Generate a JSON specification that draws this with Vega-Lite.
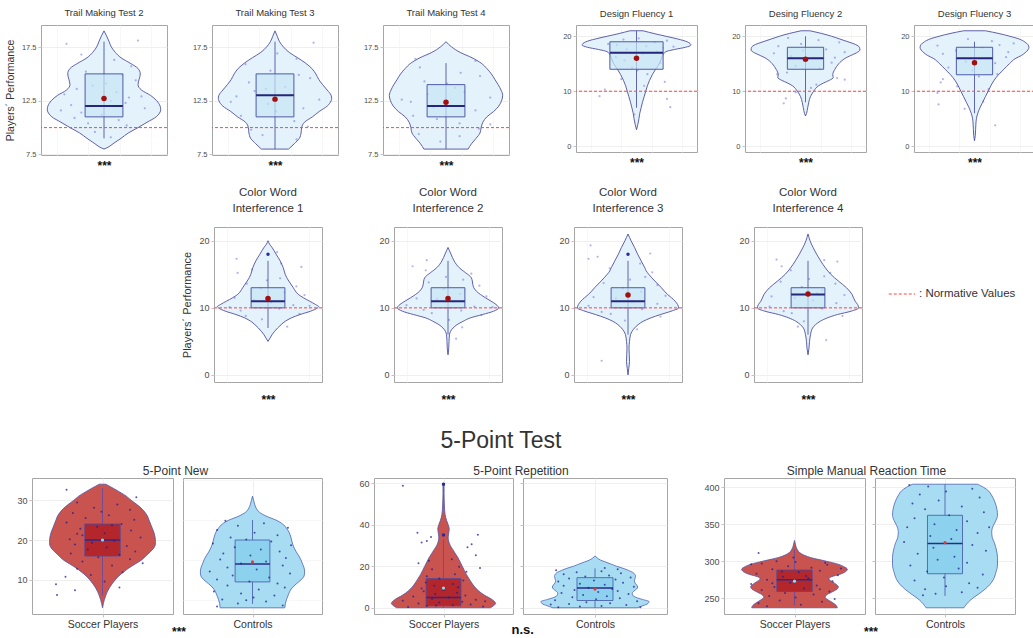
{
"$schema":"https://vega.github.io/schema/vega-lite/v6.json",
"background":"white",
"padding":{"left":0,"top":7,"right":0,"bottom":0},
"datasets":{
"vio":[
{"p":"T2","v":19,"w":0},{"p":"T2","v":18.6,"w":0.4},{"p":"T2","v":18,"w":0.9},{"p":"T2","v":17.5,"w":1.3},{"p":"T2","v":17,"w":2},{"p":"T2","v":16.5,"w":3},{"p":"T2","v":16,"w":4.6},{"p":"T2","v":15.5,"w":6},{"p":"T2","v":15,"w":6.4},{"p":"T2","v":14.5,"w":6.2},{"p":"T2","v":14,"w":6},{"p":"T2","v":13.5,"w":6.6},{"p":"T2","v":13,"w":8.2},{"p":"T2","v":12.5,"w":9.3},{"p":"T2","v":12,"w":9.9},{"p":"T2","v":11.7,"w":10},{"p":"T2","v":11,"w":9.2},{"p":"T2","v":10.5,"w":7.6},{"p":"T2","v":10,"w":6},{"p":"T2","v":9.5,"w":4.3},{"p":"T2","v":9,"w":3},{"p":"T2","v":8.5,"w":1.6},{"p":"T2","v":8.2,"w":0.8},{"p":"T2","v":8,"w":0},
{"p":"T3","v":19,"w":0},{"p":"T3","v":18.5,"w":0.4},{"p":"T3","v":18,"w":0.8},{"p":"T3","v":17.5,"w":1.5},{"p":"T3","v":17,"w":2.5},{"p":"T3","v":16.5,"w":4},{"p":"T3","v":16,"w":5.4},{"p":"T3","v":15.5,"w":6.5},{"p":"T3","v":15,"w":7.2},{"p":"T3","v":14.5,"w":7.7},{"p":"T3","v":14,"w":8.4},{"p":"T3","v":13.5,"w":9.2},{"p":"T3","v":13,"w":9.9},{"p":"T3","v":12.7,"w":10},{"p":"T3","v":12.5,"w":9.9},{"p":"T3","v":12,"w":9.2},{"p":"T3","v":11.5,"w":7.8},{"p":"T3","v":11,"w":6.6},{"p":"T3","v":10.5,"w":5.2},{"p":"T3","v":10,"w":4.7},{"p":"T3","v":9.5,"w":4.6},{"p":"T3","v":9,"w":4.3},{"p":"T3","v":8.5,"w":3.4},{"p":"T3","v":8,"w":2.4},
{"p":"T4","v":18,"w":0},{"p":"T4","v":17.5,"w":1},{"p":"T4","v":17,"w":2.5},{"p":"T4","v":16.5,"w":4.6},{"p":"T4","v":16,"w":6.2},{"p":"T4","v":15.5,"w":7.2},{"p":"T4","v":15,"w":8},{"p":"T4","v":14.5,"w":8.6},{"p":"T4","v":14,"w":9.2},{"p":"T4","v":13.5,"w":9.7},{"p":"T4","v":13,"w":10},{"p":"T4","v":12.5,"w":9.8},{"p":"T4","v":12,"w":9.3},{"p":"T4","v":11.5,"w":8.4},{"p":"T4","v":11,"w":7.2},{"p":"T4","v":10.5,"w":6.5},{"p":"T4","v":10,"w":6.2},{"p":"T4","v":9.5,"w":6},{"p":"T4","v":9,"w":5.3},{"p":"T4","v":8.5,"w":4.5},{"p":"T4","v":8,"w":3.9},
{"p":"D1","v":21,"w":1.2},{"p":"D1","v":20.5,"w":3.2},{"p":"D1","v":20,"w":5.4},{"p":"D1","v":19.5,"w":7.6},{"p":"D1","v":19,"w":9.3},{"p":"D1","v":18.4,"w":10},{"p":"D1","v":18,"w":9},{"p":"D1","v":17.6,"w":7},{"p":"D1","v":17.2,"w":5.4},{"p":"D1","v":16.5,"w":4.8},{"p":"D1","v":16,"w":4.6},{"p":"D1","v":15,"w":4.2},{"p":"D1","v":14,"w":3.5},{"p":"D1","v":13,"w":2.9},{"p":"D1","v":12,"w":2.4},{"p":"D1","v":11,"w":2},{"p":"D1","v":10,"w":1.7},{"p":"D1","v":9,"w":1.4},{"p":"D1","v":8,"w":1.1},{"p":"D1","v":7,"w":0.85},{"p":"D1","v":6,"w":0.6},{"p":"D1","v":5,"w":0.45},{"p":"D1","v":4,"w":0.25},{"p":"D1","v":3,"w":0},
{"p":"D2","v":21,"w":0.8},{"p":"D2","v":20.5,"w":3},{"p":"D2","v":20,"w":4.8},{"p":"D2","v":19.5,"w":6.3},{"p":"D2","v":19,"w":7.8},{"p":"D2","v":18.5,"w":9.2},{"p":"D2","v":18,"w":9.9},{"p":"D2","v":17.5,"w":10},{"p":"D2","v":17,"w":9.4},{"p":"D2","v":16.5,"w":8.3},{"p":"D2","v":16,"w":7.3},{"p":"D2","v":15.5,"w":6.6},{"p":"D2","v":15,"w":6.1},{"p":"D2","v":14,"w":5.4},{"p":"D2","v":13,"w":5},{"p":"D2","v":12.5,"w":5.1},{"p":"D2","v":12,"w":4.4},{"p":"D2","v":11.5,"w":3.3},{"p":"D2","v":11,"w":2.4},{"p":"D2","v":10,"w":1.5},{"p":"D2","v":9,"w":0.9},{"p":"D2","v":8,"w":0.6},{"p":"D2","v":7,"w":0.4},{"p":"D2","v":6,"w":0.2},{"p":"D2","v":5.5,"w":0},
{"p":"D3","v":21,"w":2},{"p":"D3","v":20.5,"w":4.5},{"p":"D3","v":20,"w":6.5},{"p":"D3","v":19.5,"w":8.2},{"p":"D3","v":19,"w":9.2},{"p":"D3","v":18.5,"w":9.8},{"p":"D3","v":18,"w":10},{"p":"D3","v":17.5,"w":9.8},{"p":"D3","v":17,"w":9.3},{"p":"D3","v":16.5,"w":8.6},{"p":"D3","v":16,"w":7.6},{"p":"D3","v":15,"w":6.4},{"p":"D3","v":14,"w":5.4},{"p":"D3","v":13,"w":4.4},{"p":"D3","v":12,"w":3.6},{"p":"D3","v":11,"w":3},{"p":"D3","v":10,"w":2.5},{"p":"D3","v":9,"w":2},{"p":"D3","v":8,"w":1.5},{"p":"D3","v":7,"w":1},{"p":"D3","v":6,"w":0.6},{"p":"D3","v":5,"w":0.35},{"p":"D3","v":4,"w":0.25},{"p":"D3","v":3,"w":0.2},{"p":"D3","v":2,"w":0.15},{"p":"D3","v":1,"w":0},
{"p":"C1","v":20,"w":0},{"p":"C1","v":19.5,"w":0.3},{"p":"C1","v":19,"w":0.8},{"p":"C1","v":18,"w":1.6},{"p":"C1","v":17,"w":2.4},{"p":"C1","v":16,"w":3},{"p":"C1","v":15,"w":3.4},{"p":"C1","v":14.5,"w":3.7},{"p":"C1","v":14,"w":4.1},{"p":"C1","v":13,"w":5},{"p":"C1","v":12,"w":6},{"p":"C1","v":11.5,"w":7},{"p":"C1","v":11,"w":8.2},{"p":"C1","v":10.5,"w":9.4},{"p":"C1","v":10.2,"w":10},{"p":"C1","v":10,"w":9.8},{"p":"C1","v":9.5,"w":8.4},{"p":"C1","v":9,"w":6.3},{"p":"C1","v":8.5,"w":4.6},{"p":"C1","v":8,"w":3.4},{"p":"C1","v":7.5,"w":2.6},{"p":"C1","v":7,"w":1.9},{"p":"C1","v":6.5,"w":1.3},{"p":"C1","v":6,"w":0.8},{"p":"C1","v":5.5,"w":0.4},{"p":"C1","v":5,"w":0},
{"p":"C2","v":19,"w":0},{"p":"C2","v":18.5,"w":0.3},{"p":"C2","v":18,"w":0.6},{"p":"C2","v":17,"w":1.2},{"p":"C2","v":16,"w":2.2},{"p":"C2","v":15.5,"w":3},{"p":"C2","v":15,"w":3.9},{"p":"C2","v":14.5,"w":4.6},{"p":"C2","v":14,"w":4.8},{"p":"C2","v":13.5,"w":4.9},{"p":"C2","v":13,"w":5.1},{"p":"C2","v":12.5,"w":5.6},{"p":"C2","v":12,"w":6.4},{"p":"C2","v":11.5,"w":7.4},{"p":"C2","v":11,"w":8.5},{"p":"C2","v":10.5,"w":9.5},{"p":"C2","v":10,"w":10},{"p":"C2","v":9.5,"w":9},{"p":"C2","v":9,"w":6.8},{"p":"C2","v":8.5,"w":4.4},{"p":"C2","v":8,"w":3},{"p":"C2","v":7.5,"w":1.8},{"p":"C2","v":7,"w":1},{"p":"C2","v":6.5,"w":0.5},{"p":"C2","v":6,"w":0.3},{"p":"C2","v":5,"w":0.2},{"p":"C2","v":4,"w":0.15},{"p":"C2","v":3,"w":0},
{"p":"C3","v":21,"w":0},{"p":"C3","v":20.5,"w":0.3},{"p":"C3","v":20,"w":0.6},{"p":"C3","v":19,"w":1.3},{"p":"C3","v":18,"w":1.9},{"p":"C3","v":17,"w":2.6},{"p":"C3","v":16,"w":3.3},{"p":"C3","v":15.5,"w":3.6},{"p":"C3","v":15,"w":4.1},{"p":"C3","v":14,"w":5.3},{"p":"C3","v":13,"w":6.6},{"p":"C3","v":12,"w":7.8},{"p":"C3","v":11.5,"w":8.6},{"p":"C3","v":11,"w":9.3},{"p":"C3","v":10.5,"w":9.8},{"p":"C3","v":10,"w":10},{"p":"C3","v":9.5,"w":8.5},{"p":"C3","v":9,"w":6.4},{"p":"C3","v":8.5,"w":4.5},{"p":"C3","v":8,"w":3},{"p":"C3","v":7.5,"w":2},{"p":"C3","v":7,"w":1.3},{"p":"C3","v":6.5,"w":0.8},{"p":"C3","v":6,"w":0.5},{"p":"C3","v":5,"w":0.3},{"p":"C3","v":4,"w":0.2},{"p":"C3","v":3,"w":0.25},{"p":"C3","v":2,"w":0.3},{"p":"C3","v":1,"w":0.15},{"p":"C3","v":0,"w":0},
{"p":"C4","v":21,"w":0},{"p":"C4","v":20.5,"w":0.2},{"p":"C4","v":20,"w":0.4},{"p":"C4","v":19,"w":1},{"p":"C4","v":18,"w":1.7},{"p":"C4","v":17,"w":2.5},{"p":"C4","v":16,"w":3.4},{"p":"C4","v":15,"w":4.5},{"p":"C4","v":14,"w":6},{"p":"C4","v":13,"w":7.6},{"p":"C4","v":12,"w":8.7},{"p":"C4","v":11,"w":9.3},{"p":"C4","v":10.5,"w":9.8},{"p":"C4","v":10,"w":10},{"p":"C4","v":9.5,"w":8.5},{"p":"C4","v":9,"w":5.8},{"p":"C4","v":8.5,"w":3.8},{"p":"C4","v":8,"w":2.4},{"p":"C4","v":7.5,"w":1.5},{"p":"C4","v":7,"w":0.9},{"p":"C4","v":6,"w":0.5},{"p":"C4","v":5,"w":0.3},{"p":"C4","v":4,"w":0.2},{"p":"C4","v":3,"w":0},
{"p":"NS","v":34,"w":0.6},{"p":"NS","v":33,"w":2},{"p":"NS","v":32,"w":3.3},{"p":"NS","v":31,"w":4.5},{"p":"NS","v":30,"w":5.4},{"p":"NS","v":29,"w":6.4},{"p":"NS","v":28,"w":7.3},{"p":"NS","v":27,"w":8},{"p":"NS","v":26,"w":8.5},{"p":"NS","v":25,"w":8.8},{"p":"NS","v":24,"w":9.1},{"p":"NS","v":23,"w":9.4},{"p":"NS","v":22,"w":9.7},{"p":"NS","v":21,"w":9.9},{"p":"NS","v":20,"w":10},{"p":"NS","v":19,"w":10},{"p":"NS","v":18,"w":9.7},{"p":"NS","v":17,"w":9},{"p":"NS","v":16,"w":8.2},{"p":"NS","v":15,"w":7.4},{"p":"NS","v":14,"w":6.2},{"p":"NS","v":13,"w":5},{"p":"NS","v":12,"w":4},{"p":"NS","v":11,"w":3.1},{"p":"NS","v":10,"w":2.4},{"p":"NS","v":9,"w":1.8},{"p":"NS","v":8,"w":1.3},{"p":"NS","v":7,"w":0.9},{"p":"NS","v":6,"w":0.6},{"p":"NS","v":5,"w":0.35},{"p":"NS","v":4,"w":0.15},{"p":"NS","v":3,"w":0},
{"p":"NC","v":31,"w":0},{"p":"NC","v":30,"w":0.2},{"p":"NC","v":29,"w":0.4},{"p":"NC","v":28,"w":0.7},{"p":"NC","v":27,"w":1.3},{"p":"NC","v":26,"w":2.6},{"p":"NC","v":25,"w":4.5},{"p":"NC","v":24,"w":5.8},{"p":"NC","v":23,"w":6.5},{"p":"NC","v":22,"w":7},{"p":"NC","v":21,"w":7.3},{"p":"NC","v":20,"w":7.5},{"p":"NC","v":19,"w":7.7},{"p":"NC","v":18,"w":8},{"p":"NC","v":17,"w":8.4},{"p":"NC","v":16,"w":8.9},{"p":"NC","v":15,"w":9.3},{"p":"NC","v":14,"w":9.6},{"p":"NC","v":13,"w":9.9},{"p":"NC","v":12,"w":10},{"p":"NC","v":11,"w":9.9},{"p":"NC","v":10,"w":9.3},{"p":"NC","v":9,"w":8.4},{"p":"NC","v":8,"w":7.6},{"p":"NC","v":7,"w":7.1},{"p":"NC","v":6,"w":6.8},{"p":"NC","v":5,"w":6.5},{"p":"NC","v":4,"w":6.3},{"p":"NC","v":3,"w":6.2},
{"p":"RS","v":60,"w":0.1},{"p":"RS","v":55,"w":0.1},{"p":"RS","v":50,"w":0.15},{"p":"RS","v":45,"w":0.3},{"p":"RS","v":42,"w":0.6},{"p":"RS","v":40,"w":0.9},{"p":"RS","v":38,"w":1.1},{"p":"RS","v":36,"w":1},{"p":"RS","v":34,"w":0.9},{"p":"RS","v":32,"w":1},{"p":"RS","v":30,"w":1.3},{"p":"RS","v":28,"w":1.8},{"p":"RS","v":26,"w":2.3},{"p":"RS","v":24,"w":2.8},{"p":"RS","v":22,"w":3.2},{"p":"RS","v":20,"w":3.6},{"p":"RS","v":18,"w":4},{"p":"RS","v":16,"w":4.4},{"p":"RS","v":14,"w":4.9},{"p":"RS","v":12,"w":5.4},{"p":"RS","v":10,"w":6},{"p":"RS","v":8,"w":6.8},{"p":"RS","v":6,"w":7.9},{"p":"RS","v":4,"w":9.3},{"p":"RS","v":2,"w":10},{"p":"RS","v":1,"w":9.6},{"p":"RS","v":0,"w":9},
{"p":"RC","v":25,"w":0},{"p":"RC","v":24,"w":0.4},{"p":"RC","v":23,"w":1},{"p":"RC","v":22,"w":2},{"p":"RC","v":21,"w":3},{"p":"RC","v":20,"w":4},{"p":"RC","v":19,"w":5.2},{"p":"RC","v":18,"w":6.2},{"p":"RC","v":17,"w":7},{"p":"RC","v":16,"w":7.4},{"p":"RC","v":15,"w":7.5},{"p":"RC","v":14,"w":7.4},{"p":"RC","v":13,"w":7.3},{"p":"RC","v":12,"w":7.4},{"p":"RC","v":11,"w":7.7},{"p":"RC","v":10,"w":7.9},{"p":"RC","v":9,"w":7.7},{"p":"RC","v":8,"w":7.2},{"p":"RC","v":7,"w":6.9},{"p":"RC","v":6,"w":7},{"p":"RC","v":5,"w":7.6},{"p":"RC","v":4,"w":8.8},{"p":"RC","v":3,"w":10},{"p":"RC","v":2,"w":9.8},{"p":"RC","v":1,"w":8.9},{"p":"RC","v":0,"w":7.8},
{"p":"MS","v":328,"w":0},{"p":"MS","v":322,"w":0.2},{"p":"MS","v":316,"w":0.5},{"p":"MS","v":310,"w":1.3},{"p":"MS","v":305,"w":3},{"p":"MS","v":300,"w":6},{"p":"MS","v":296,"w":8.2},{"p":"MS","v":292,"w":9.5},{"p":"MS","v":289,"w":10},{"p":"MS","v":286,"w":9.7},{"p":"MS","v":282,"w":8.5},{"p":"MS","v":279,"w":7},{"p":"MS","v":276,"w":6.5},{"p":"MS","v":272,"w":7.2},{"p":"MS","v":268,"w":8},{"p":"MS","v":265,"w":8.3},{"p":"MS","v":262,"w":8},{"p":"MS","v":258,"w":7},{"p":"MS","v":254,"w":6},{"p":"MS","v":251,"w":5.8},{"p":"MS","v":248,"w":6.3},{"p":"MS","v":244,"w":7.2},{"p":"MS","v":240,"w":7.9},{"p":"MS","v":237,"w":8.1},
{"p":"MC","v":404,"w":6.2},{"p":"MC","v":400,"w":7.3},{"p":"MC","v":395,"w":8.3},{"p":"MC","v":390,"w":8.8},{"p":"MC","v":385,"w":9.2},{"p":"MC","v":380,"w":9.5},{"p":"MC","v":370,"w":9.9},{"p":"MC","v":362,"w":10},{"p":"MC","v":355,"w":9.7},{"p":"MC","v":348,"w":9.2},{"p":"MC","v":340,"w":8.9},{"p":"MC","v":332,"w":9},{"p":"MC","v":325,"w":9.4},{"p":"MC","v":315,"w":9.8},{"p":"MC","v":305,"w":10},{"p":"MC","v":295,"w":10},{"p":"MC","v":285,"w":9.7},{"p":"MC","v":275,"w":9.2},{"p":"MC","v":268,"w":8.5},{"p":"MC","v":262,"w":7.6},{"p":"MC","v":256,"w":6.5},{"p":"MC","v":250,"w":5.3},{"p":"MC","v":245,"w":4.5},{"p":"MC","v":240,"w":3.9},{"p":"MC","v":237,"w":3.6}
],
"box":[
{"p":"T2","lo":9,"q1":11,"md":12,"q3":15,"hi":18,"mn":12.7},
{"p":"T3","lo":8,"q1":11,"md":13,"q3":15,"hi":18,"mn":12.65},
{"p":"T4","lo":8,"q1":11,"md":12,"q3":14,"hi":16,"mn":12.35},
{"p":"D1","lo":7,"q1":14,"md":17,"q3":19,"hi":21,"mn":16},
{"p":"D2","lo":8,"q1":14,"md":16,"q3":18,"hi":20,"mn":15.8},
{"p":"D3","lo":6,"q1":13,"md":16,"q3":18,"hi":19,"mn":15.2},
{"p":"C1","lo":7,"q1":10,"md":11,"q3":13,"hi":17,"mn":11.4},
{"p":"C2","lo":6,"q1":10,"md":11,"q3":13,"hi":17,"mn":11.4},
{"p":"C3","lo":6,"q1":10,"md":11,"q3":13,"hi":17,"mn":11.9},
{"p":"C4","lo":6,"q1":10,"md":12,"q3":13,"hi":17,"mn":12.05},
{"p":"NS","lo":6,"q1":16,"md":20,"q3":24,"hi":33,"mn":20},
{"p":"NC","lo":4,"q1":9.5,"md":14,"q3":20,"hi":25,"mn":14.5},
{"p":"RS","lo":0,"q1":1,"md":5,"q3":14,"hi":33,"mn":9.5},
{"p":"RC","lo":0,"q1":3.5,"md":9.5,"q3":14.5,"hi":19,"mn":9},
{"p":"MS","lo":240,"q1":259,"md":275,"q3":288,"hi":316,"mn":273},
{"p":"MC","lo":253,"q1":283,"md":324,"q3":362,"hi":404,"mn":325}
],
"out":[
{"p":"C1","v":18},{"p":"C3","v":18},{"p":"RS","v":35},{"p":"RS","v":59.5}
],
"pts":[
{"p":"T2","v":12.1,"j":2.1},{"p":"T2","v":11.4,"j":3},{"p":"T2","v":12.8,"j":7.2},{"p":"T2","v":13.6,"j":2.6},{"p":"T2","v":10.7,"j":6.3},{"p":"T2","v":14.4,"j":7.8},{"p":"T2","v":15.2,"j":3.4},{"p":"T2","v":11.8,"j":8.6},{"p":"T2","v":9.6,"j":4.2},{"p":"T2","v":12.5,"j":5.6},{"p":"T2","v":13.1,"j":1.5},{"p":"T2","v":10.2,"j":7},{"p":"T2","v":16.3,"j":5.9},{"p":"T2","v":14.9,"j":6.6},{"p":"T2","v":11.2,"j":4.8},{"p":"T2","v":13.9,"j":4},{"p":"T2","v":9.1,"j":5.6},{"p":"T2","v":12.9,"j":8.3},{"p":"T2","v":15.7,"j":7.4},{"p":"T2","v":17.8,"j":1.7},{"p":"T2","v":18.1,"j":8},{"p":"T2","v":10.9,"j":2.4},{"p":"T2","v":12.3,"j":6.9},{"p":"T2","v":14.1,"j":5.2},{"p":"T2","v":11.6,"j":1.2},{"p":"T2","v":16.8,"j":3},{"p":"T2","v":13.3,"j":6.1},{"p":"T2","v":10.4,"j":3.6},
{"p":"T3","v":12.9,"j":1.6},{"p":"T3","v":13.4,"j":3.2},{"p":"T3","v":11.8,"j":7.5},{"p":"T3","v":14.6,"j":8.1},{"p":"T3","v":15.9,"j":2.4},{"p":"T3","v":10.6,"j":6.7},{"p":"T3","v":12.2,"j":4.4},{"p":"T3","v":16.4,"j":6.9},{"p":"T3","v":9.3,"j":3.9},{"p":"T3","v":11.1,"j":2},{"p":"T3","v":13.8,"j":5.9},{"p":"T3","v":14.2,"j":2.7},{"p":"T3","v":12.6,"j":8.9},{"p":"T3","v":15.3,"j":4.6},{"p":"T3","v":10.1,"j":7.9},{"p":"T3","v":17.9,"j":8.4},{"p":"T3","v":9.8,"j":2.9},{"p":"T3","v":13.1,"j":6.4},{"p":"T3","v":11.5,"j":5.1},{"p":"T3","v":14.9,"j":7.1},{"p":"T3","v":8.9,"j":6.9},{"p":"T3","v":12.4,"j":1.1},{"p":"T3","v":16.9,"j":5.2},{"p":"T3","v":13.6,"j":4.2},
{"p":"T4","v":12.6,"j":1.1},{"p":"T4","v":13.1,"j":3.4},{"p":"T4","v":11.6,"j":7.6},{"p":"T4","v":14.8,"j":8},{"p":"T4","v":15.6,"j":2.7},{"p":"T4","v":10.4,"j":6.2},{"p":"T4","v":12.2,"j":4.9},{"p":"T4","v":16.2,"j":7.6},{"p":"T4","v":9.4,"j":2.6},{"p":"T4","v":11.1,"j":2.1},{"p":"T4","v":13.7,"j":5.8},{"p":"T4","v":14.3,"j":3.1},{"p":"T4","v":12.8,"j":8.9},{"p":"T4","v":9.9,"j":7.9},{"p":"T4","v":10.8,"j":4.2},{"p":"T4","v":8.7,"j":4.5},{"p":"T4","v":13.3,"j":6.6},{"p":"T4","v":11.9,"j":3.9},{"p":"T4","v":15.1,"j":6.3},{"p":"T4","v":9.2,"j":6.2},{"p":"T4","v":12.4,"j":1.9},{"p":"T4","v":16.4,"j":2.3},{"p":"T4","v":10.3,"j":8.9},{"p":"T4","v":14.1,"j":5.1},
{"p":"D1","v":18.4,"j":3.2},{"p":"D1","v":18.9,"j":6.7},{"p":"D1","v":17.6,"j":4.1},{"p":"D1","v":19.2,"j":7.8},{"p":"D1","v":16.8,"j":5.6},{"p":"D1","v":18.1,"j":8.4},{"p":"D1","v":15.6,"j":3.9},{"p":"D1","v":17.2,"j":6.9},{"p":"D1","v":19.6,"j":5.2},{"p":"D1","v":14.3,"j":4.6},{"p":"D1","v":13.1,"j":6},{"p":"D1","v":12.2,"j":3.6},{"p":"D1","v":11,"j":5.7},{"p":"D1","v":10.3,"j":2.1},{"p":"D1","v":9.1,"j":1.6},{"p":"D1","v":8.6,"j":7.8},{"p":"D1","v":7.1,"j":8.1},{"p":"D1","v":18.6,"j":2.4},{"p":"D1","v":17.9,"j":7.4},{"p":"D1","v":16.2,"j":3.1},{"p":"D1","v":15.1,"j":7.2},{"p":"D1","v":19.4,"j":3.8},{"p":"D1","v":13.8,"j":5.1},{"p":"D1","v":5.8,"j":4.8},{"p":"D1","v":11.7,"j":7.6},{"p":"D1","v":18.2,"j":5.9},
{"p":"D2","v":18.2,"j":2.5},{"p":"D2","v":17.6,"j":6.9},{"p":"D2","v":16.4,"j":3.7},{"p":"D2","v":18.9,"j":8.1},{"p":"D2","v":15.8,"j":5.2},{"p":"D2","v":17.1,"j":8.6},{"p":"D2","v":14.6,"j":4.1},{"p":"D2","v":19.3,"j":6.2},{"p":"D2","v":13.4,"j":3.3},{"p":"D2","v":12.1,"j":8.6},{"p":"D2","v":12.4,"j":7.9},{"p":"D2","v":11.2,"j":6},{"p":"D2","v":9.8,"j":4.1},{"p":"D2","v":8.7,"j":3.2},{"p":"D2","v":7.8,"j":3},{"p":"D2","v":16.9,"j":2.1},{"p":"D2","v":18.6,"j":4.6},{"p":"D2","v":15.2,"j":7.4},{"p":"D2","v":19.7,"j":3.4},{"p":"D2","v":14.1,"j":6.3},{"p":"D2","v":10.6,"j":5.5},{"p":"D2","v":17.4,"j":4.8},{"p":"D2","v":13.1,"j":2.4},{"p":"D2","v":16.1,"j":7.7},
{"p":"D3","v":18.3,"j":1.6},{"p":"D3","v":17.4,"j":3.3},{"p":"D3","v":19.1,"j":6.6},{"p":"D3","v":16.2,"j":7.9},{"p":"D3","v":18.7,"j":8.6},{"p":"D3","v":15.4,"j":4.2},{"p":"D3","v":17.9,"j":5.7},{"p":"D3","v":14.3,"j":2.6},{"p":"D3","v":13.1,"j":7.1},{"p":"D3","v":12.2,"j":2.1},{"p":"D3","v":11.6,"j":1.9},{"p":"D3","v":10.4,"j":6.3},{"p":"D3","v":9.7,"j":1.6},{"p":"D3","v":8.1,"j":5.8},{"p":"D3","v":7.6,"j":1.7},{"p":"D3","v":6.8,"j":4.1},{"p":"D3","v":3.8,"j":6.9},{"p":"D3","v":19.5,"j":4.4},{"p":"D3","v":16.8,"j":2.1},{"p":"D3","v":15.1,"j":6.9},{"p":"D3","v":18.4,"j":7.3},{"p":"D3","v":13.8,"j":4.8},{"p":"D3","v":10.9,"j":3.4},{"p":"D3","v":17.1,"j":8.1},{"p":"D3","v":12.7,"j":5.4},
{"p":"C1","v":10.1,"j":1.2},{"p":"C1","v":9.6,"j":2.3},{"p":"C1","v":11.2,"j":3.6},{"p":"C1","v":10.4,"j":7.5},{"p":"C1","v":12.3,"j":6.6},{"p":"C1","v":9.1,"j":8.1},{"p":"C1","v":13.6,"j":2.9},{"p":"C1","v":14.4,"j":6.2},{"p":"C1","v":15.7,"j":3.4},{"p":"C1","v":16.1,"j":8.3},{"p":"C1","v":8.3,"j":4.4},{"p":"C1","v":7.2,"j":6.9},{"p":"C1","v":11.9,"j":8.6},{"p":"C1","v":10.8,"j":5.3},{"p":"C1","v":12.9,"j":4.3},{"p":"C1","v":9.9,"j":6.1},{"p":"C1","v":13.2,"j":7.8},{"p":"C1","v":15.2,"j":2},{"p":"C1","v":17.3,"j":1.9},{"p":"C1","v":18.3,"j":5.9},{"p":"C1","v":8.8,"j":2.8},{"p":"C1","v":11.5,"j":1.7},{"p":"C1","v":16.6,"j":6.3},{"p":"C1","v":14.1,"j":4.9},{"p":"C1","v":10.3,"j":9.1},
{"p":"C2","v":10.4,"j":0.9},{"p":"C2","v":9.7,"j":2.6},{"p":"C2","v":11.3,"j":3.9},{"p":"C2","v":10.2,"j":7.6},{"p":"C2","v":12.1,"j":6.2},{"p":"C2","v":8.9,"j":8.3},{"p":"C2","v":13.8,"j":3.1},{"p":"C2","v":14.2,"j":6.5},{"p":"C2","v":15.6,"j":2.8},{"p":"C2","v":16.2,"j":1.5},{"p":"C2","v":8.2,"j":5.1},{"p":"C2","v":7.1,"j":6.4},{"p":"C2","v":11.7,"j":8.8},{"p":"C2","v":10.9,"j":5.6},{"p":"C2","v":12.8,"j":4.6},{"p":"C2","v":9.6,"j":6.3},{"p":"C2","v":13.3,"j":8.1},{"p":"C2","v":15.1,"j":7.3},{"p":"C2","v":17.1,"j":2.9},{"p":"C2","v":9.2,"j":3.4},{"p":"C2","v":11.4,"j":1.9},{"p":"C2","v":5.4,"j":5.8},{"p":"C2","v":14.6,"j":4.8},{"p":"C2","v":10.1,"j":9.4},
{"p":"C3","v":10.3,"j":1.1},{"p":"C3","v":9.4,"j":2.4},{"p":"C3","v":11.4,"j":3.8},{"p":"C3","v":10.6,"j":7.9},{"p":"C3","v":12.4,"j":6.3},{"p":"C3","v":8.7,"j":8.2},{"p":"C3","v":13.7,"j":2.6},{"p":"C3","v":14.6,"j":6.7},{"p":"C3","v":15.9,"j":3.2},{"p":"C3","v":17.3,"j":1.1},{"p":"C3","v":17.6,"j":2},{"p":"C3","v":8.1,"j":4.7},{"p":"C3","v":6.8,"j":5.9},{"p":"C3","v":11.8,"j":8.7},{"p":"C3","v":10.9,"j":5.4},{"p":"C3","v":12.9,"j":4.5},{"p":"C3","v":9.8,"j":6.4},{"p":"C3","v":13.4,"j":7.9},{"p":"C3","v":15.3,"j":7.4},{"p":"C3","v":19.3,"j":1.3},{"p":"C3","v":16.6,"j":6.2},{"p":"C3","v":2.1,"j":2.4},{"p":"C3","v":9.1,"j":3.3},{"p":"C3","v":14.2,"j":5.2},{"p":"C3","v":11.6,"j":1.6},{"p":"C3","v":18.1,"j":7.2},
{"p":"C4","v":10.2,"j":1.2},{"p":"C4","v":9.5,"j":2.6},{"p":"C4","v":11.5,"j":3.7},{"p":"C4","v":10.7,"j":7.8},{"p":"C4","v":12.6,"j":6.4},{"p":"C4","v":8.8,"j":8.4},{"p":"C4","v":13.9,"j":2.3},{"p":"C4","v":14.7,"j":6.6},{"p":"C4","v":15.6,"j":3.3},{"p":"C4","v":17.2,"j":1.9},{"p":"C4","v":16.9,"j":7.9},{"p":"C4","v":8,"j":4.6},{"p":"C4","v":7.2,"j":4},{"p":"C4","v":11.9,"j":8.6},{"p":"C4","v":11.1,"j":5.5},{"p":"C4","v":13.1,"j":4.4},{"p":"C4","v":9.9,"j":6.4},{"p":"C4","v":13.6,"j":7.7},{"p":"C4","v":15.2,"j":7.2},{"p":"C4","v":17.1,"j":6.6},{"p":"C4","v":16.2,"j":2.4},{"p":"C4","v":5.2,"j":6.8},{"p":"C4","v":9.2,"j":3.4},{"p":"C4","v":14.3,"j":5.1},{"p":"C4","v":11.7,"j":1.4},{"p":"C4","v":12.2,"j":5.9},
{"p":"NS","v":32.6,"j":1.6},{"p":"NS","v":30.7,"j":8.2},{"p":"NS","v":29.4,"j":2.6},{"p":"NS","v":28.9,"j":6.4},{"p":"NS","v":28.1,"j":4.2},{"p":"NS","v":27.6,"j":7.6},{"p":"NS","v":26.8,"j":2.2},{"p":"NS","v":26.2,"j":5.6},{"p":"NS","v":25.5,"j":3.4},{"p":"NS","v":25.1,"j":8},{"p":"NS","v":24.4,"j":1.6},{"p":"NS","v":24,"j":6.8},{"p":"NS","v":23.3,"j":4.5},{"p":"NS","v":22.8,"j":2.9},{"p":"NS","v":22.4,"j":7.7},{"p":"NS","v":21.7,"j":5.2},{"p":"NS","v":21.2,"j":3.1},{"p":"NS","v":20.6,"j":8.6},{"p":"NS","v":20.2,"j":1.9},{"p":"NS","v":19.8,"j":6.1},{"p":"NS","v":19.3,"j":4},{"p":"NS","v":18.9,"j":2.4},{"p":"NS","v":18.5,"j":7.3},{"p":"NS","v":18.1,"j":5.4},{"p":"NS","v":17.6,"j":3.6},{"p":"NS","v":17.1,"j":8.1},{"p":"NS","v":16.6,"j":2},{"p":"NS","v":16.3,"j":6.6},{"p":"NS","v":15.7,"j":4.6},{"p":"NS","v":15.2,"j":7.6},{"p":"NS","v":14.6,"j":3.1},{"p":"NS","v":14.2,"j":8.8},{"p":"NS","v":13.6,"j":5.9},{"p":"NS","v":12.8,"j":2.6},{"p":"NS","v":11.9,"j":6.9},{"p":"NS","v":11.2,"j":3.9},{"p":"NS","v":10.8,"j":1.5},{"p":"NS","v":9.6,"j":5.2},{"p":"NS","v":8.9,"j":0.6},{"p":"NS","v":8.1,"j":6.6},{"p":"NS","v":6.2,"j":0.7},{"p":"NS","v":7.4,"j":2.4},{"p":"NS","v":23.7,"j":5.9},{"p":"NS","v":27.1,"j":4.9},{"p":"NS","v":21.6,"j":2.6},
{"p":"NC","v":24.8,"j":2.4},{"p":"NC","v":24.2,"j":6.1},{"p":"NC","v":23.6,"j":3.6},{"p":"NC","v":23.1,"j":8.4},{"p":"NC","v":22.5,"j":1.6},{"p":"NC","v":21.8,"j":5.2},{"p":"NC","v":21.2,"j":7.4},{"p":"NC","v":20.6,"j":2.9},{"p":"NC","v":20.1,"j":4.4},{"p":"NC","v":19.6,"j":6.8},{"p":"NC","v":19.1,"j":1.2},{"p":"NC","v":18.7,"j":8.7},{"p":"NC","v":18.2,"j":3.3},{"p":"NC","v":17.6,"j":5.8},{"p":"NC","v":17.1,"j":7.6},{"p":"NC","v":16.6,"j":2.2},{"p":"NC","v":16.1,"j":4.8},{"p":"NC","v":15.5,"j":8.2},{"p":"NC","v":15.1,"j":1.9},{"p":"NC","v":14.6,"j":6.3},{"p":"NC","v":14.1,"j":3.9},{"p":"NC","v":13.6,"j":7.9},{"p":"NC","v":13.1,"j":2.6},{"p":"NC","v":12.6,"j":5.4},{"p":"NC","v":12.1,"j":0.9},{"p":"NC","v":11.6,"j":8.6},{"p":"NC","v":11.1,"j":3.1},{"p":"NC","v":10.6,"j":6.6},{"p":"NC","v":10.1,"j":1.6},{"p":"NC","v":9.6,"j":4.7},{"p":"NC","v":9.1,"j":7.4},{"p":"NC","v":8.6,"j":2.6},{"p":"NC","v":8.1,"j":8.1},{"p":"NC","v":7.6,"j":5.6},{"p":"NC","v":7.1,"j":1.3},{"p":"NC","v":6.6,"j":3.9},{"p":"NC","v":6.1,"j":7.1},{"p":"NC","v":5.6,"j":5.1},{"p":"NC","v":5.1,"j":2.1},{"p":"NC","v":4.6,"j":6.3},{"p":"NC","v":4.1,"j":3.6},{"p":"NC","v":3.6,"j":7.9},{"p":"NC","v":3.3,"j":1.6},{"p":"NC","v":4.9,"j":4.4},
{"p":"RS","v":0.4,"j":1.6},{"p":"RS","v":0.8,"j":3.4},{"p":"RS","v":1.2,"j":5.9},{"p":"RS","v":1.6,"j":7.6},{"p":"RS","v":0.6,"j":8.8},{"p":"RS","v":2.1,"j":2.6},{"p":"RS","v":2.5,"j":4.6},{"p":"RS","v":2.9,"j":6.8},{"p":"RS","v":3.4,"j":1.1},{"p":"RS","v":3.9,"j":8.1},{"p":"RS","v":4.4,"j":3.9},{"p":"RS","v":4.9,"j":5.5},{"p":"RS","v":5.4,"j":2.1},{"p":"RS","v":5.9,"j":7.1},{"p":"RS","v":6.6,"j":4.2},{"p":"RS","v":7.2,"j":6.3},{"p":"RS","v":7.9,"j":3.1},{"p":"RS","v":8.6,"j":5},{"p":"RS","v":9.3,"j":2.9},{"p":"RS","v":9.9,"j":6.4},{"p":"RS","v":10.6,"j":4.1},{"p":"RS","v":11.4,"j":5.9},{"p":"RS","v":12.2,"j":3.3},{"p":"RS","v":13.1,"j":6.9},{"p":"RS","v":14.1,"j":4.6},{"p":"RS","v":15.2,"j":3.4},{"p":"RS","v":16.1,"j":6.1},{"p":"RS","v":17.3,"j":7.2},{"p":"RS","v":18.6,"j":3.9},{"p":"RS","v":19.8,"j":6.5},{"p":"RS","v":21.4,"j":2.6},{"p":"RS","v":22.6,"j":3.6},{"p":"RS","v":23.4,"j":5.8},{"p":"RS","v":25.3,"j":8.1},{"p":"RS","v":29.1,"j":7.3},{"p":"RS","v":30.6,"j":7.7},{"p":"RS","v":31.4,"j":2.9},{"p":"RS","v":32.1,"j":3.4},{"p":"RS","v":34.1,"j":3.8},{"p":"RS","v":35.2,"j":8.3},{"p":"RS","v":36.1,"j":2.5},{"p":"RS","v":58.8,"j":1.1},{"p":"RS","v":19.1,"j":8.5},{"p":"RS","v":1.1,"j":4.3},{"p":"RS","v":3.1,"j":9},
{"p":"RC","v":0.3,"j":1.6},{"p":"RC","v":0.6,"j":3.6},{"p":"RC","v":0.9,"j":5.6},{"p":"RC","v":1.3,"j":7.9},{"p":"RC","v":1.8,"j":2.6},{"p":"RC","v":2.2,"j":6.4},{"p":"RC","v":2.7,"j":4.2},{"p":"RC","v":3.1,"j":8.9},{"p":"RC","v":3.6,"j":1.3},{"p":"RC","v":4.1,"j":5.1},{"p":"RC","v":4.6,"j":7.3},{"p":"RC","v":5.1,"j":2.9},{"p":"RC","v":5.6,"j":6.1},{"p":"RC","v":6.1,"j":3.9},{"p":"RC","v":6.6,"j":8.1},{"p":"RC","v":7.1,"j":1.9},{"p":"RC","v":7.6,"j":5.3},{"p":"RC","v":8.1,"j":7.1},{"p":"RC","v":8.6,"j":3.1},{"p":"RC","v":9.1,"j":6.6},{"p":"RC","v":9.6,"j":4.4},{"p":"RC","v":10.1,"j":8.6},{"p":"RC","v":10.6,"j":2.1},{"p":"RC","v":11.1,"j":5.9},{"p":"RC","v":11.6,"j":3.6},{"p":"RC","v":12.1,"j":7.6},{"p":"RC","v":12.6,"j":1.6},{"p":"RC","v":13.1,"j":4.9},{"p":"RC","v":13.6,"j":6.9},{"p":"RC","v":14.1,"j":2.6},{"p":"RC","v":14.6,"j":8.3},{"p":"RC","v":15.1,"j":4.1},{"p":"RC","v":15.6,"j":6.3},{"p":"RC","v":16.1,"j":2.1},{"p":"RC","v":16.6,"j":7.4},{"p":"RC","v":17.1,"j":3.3},{"p":"RC","v":17.6,"j":5.6},{"p":"RC","v":18.1,"j":1.4},{"p":"RC","v":18.6,"j":7.1},{"p":"RC","v":19.1,"j":5.9},{"p":"RC","v":0.2,"j":9.2},{"p":"RC","v":1.6,"j":0.9},
{"p":"MS","v":239,"j":2.4},{"p":"MS","v":241,"j":5.6},{"p":"MS","v":243,"j":1.6},{"p":"MS","v":245,"j":7.6},{"p":"MS","v":247,"j":3.6},{"p":"MS","v":249,"j":8.8},{"p":"MS","v":251,"j":5.1},{"p":"MS","v":253,"j":2.6},{"p":"MS","v":255,"j":6.8},{"p":"MS","v":257,"j":4.1},{"p":"MS","v":259,"j":8.3},{"p":"MS","v":261,"j":1.9},{"p":"MS","v":263,"j":5.9},{"p":"MS","v":265,"j":3.1},{"p":"MS","v":267,"j":7.1},{"p":"MS","v":269,"j":0.9},{"p":"MS","v":271,"j":4.6},{"p":"MS","v":273,"j":8.6},{"p":"MS","v":275,"j":2.4},{"p":"MS","v":277,"j":6.3},{"p":"MS","v":279,"j":3.9},{"p":"MS","v":281,"j":9.1},{"p":"MS","v":283,"j":1.4},{"p":"MS","v":285,"j":5.4},{"p":"MS","v":287,"j":7.4},{"p":"MS","v":289,"j":2.9},{"p":"MS","v":291,"j":6.6},{"p":"MS","v":293,"j":4.4},{"p":"MS","v":295,"j":8.1},{"p":"MS","v":297,"j":1.9},{"p":"MS","v":299,"j":5.1},{"p":"MS","v":300,"j":3.3},{"p":"MS","v":298,"j":7.9},{"p":"MS","v":296,"j":0.9},{"p":"MS","v":290,"j":9.4},{"p":"MS","v":286,"j":3.8},{"p":"MS","v":280,"j":6.1},{"p":"MS","v":270,"j":2.9},{"p":"MS","v":262,"j":7.4},{"p":"MS","v":311,"j":1.6},{"p":"MS","v":305,"j":4.9},
{"p":"MC","v":403,"j":1.6},{"p":"MC","v":401,"j":3.4},{"p":"MC","v":398,"j":7.6},{"p":"MC","v":394,"j":5.1},{"p":"MC","v":390,"j":2.6},{"p":"MC","v":386,"j":8.3},{"p":"MC","v":382,"j":4.4},{"p":"MC","v":378,"j":1.9},{"p":"MC","v":374,"j":6.6},{"p":"MC","v":370,"j":3.1},{"p":"MC","v":366,"j":8.7},{"p":"MC","v":362,"j":5.4},{"p":"MC","v":358,"j":2.1},{"p":"MC","v":354,"j":7.1},{"p":"MC","v":350,"j":4},{"p":"MC","v":346,"j":1.4},{"p":"MC","v":342,"j":6.1},{"p":"MC","v":338,"j":8.1},{"p":"MC","v":334,"j":3.6},{"p":"MC","v":330,"j":5.6},{"p":"MC","v":326,"j":1.1},{"p":"MC","v":322,"j":7.6},{"p":"MC","v":318,"j":3.9},{"p":"MC","v":314,"j":8.9},{"p":"MC","v":310,"j":2.4},{"p":"MC","v":306,"j":5.9},{"p":"MC","v":302,"j":4.3},{"p":"MC","v":298,"j":7.1},{"p":"MC","v":294,"j":1.7},{"p":"MC","v":290,"j":6.3},{"p":"MC","v":286,"j":3.3},{"p":"MC","v":282,"j":8.6},{"p":"MC","v":278,"j":4.9},{"p":"MC","v":274,"j":2.1},{"p":"MC","v":270,"j":7.3},{"p":"MC","v":266,"j":5.1},{"p":"MC","v":262,"j":3.1},{"p":"MC","v":258,"j":6.6},{"p":"MC","v":256,"j":4.1},{"p":"MC","v":254,"j":2.9},{"p":"MC","v":264,"j":8.1},{"p":"MC","v":346,"j":9.2}
]
},
"config":{
"font":"Liberation Sans",
"view":{"stroke":"#a6a6a6","strokeWidth":1},
"axis":{"domain":false,"labelColor":"#4d4d4d","labelFontSize":7.5,"tickColor":"#b3b3b3","tickSize":3,"tickWidth":0.8,"labelPadding":2,"labelOverlap":false,"labelFlush":false,"gridColor":"#ebebeb","gridWidth":0.8,"titleColor":"#333333","titleFontWeight":"normal"},
"title":{"fontSize":9.5,"fontWeight":"normal","color":"#333333","offset":8}
},
"spacing":14,
"vconcat":[
{"spacing":0,"hconcat":[
{"width":4,"height":1,"data":{"values":[]},"mark":"point","view":{"stroke":null}},
{"spacing":52,"hconcat":[
{"spacing":23,"hconcat":[
{"width":126,"height":130,"title":"Trail Making Test 2","layer":[
{"data":{"name":"vio"},"transform":[{"filter":"datum.p==='T2'"}],"mark":{"type":"area","orient":"horizontal","interpolate":"monotone","fill":"#e3f2fb","stroke":"#4e4f9f","strokeWidth":0.9},"encoding":{"y":{"field":"v","type":"quantitative","scale":{"domain":[7.45,19.55],"nice":false,"zero":false},"axis":{"values":[7.5,8.75,10,11.25,12.5,13.75,15,16.25,17.5,18.75],"labelOverlap":false,"labelExpr":"datum.value % 2.5 === 0 ? format(datum.value,'.1f') : ''","gridColor":{"condition":{"test":"datum.value % 2.5 === 0","value":"#ebebeb"},"value":"#f5f5f5"},"tickOpacity":{"condition":{"test":"datum.value % 2.5 === 0","value":1},"value":0},"title":"Players´ Performance","titleFontSize":10.5,"titlePadding":6}},"x":{"field":"w","type":"quantitative","stack":"center","scale":{"domain":[-0.556,10.556],"nice":false,"zero":false},"axis":{"values":[0.833,2.222,3.611,5,6.389,7.778,9.167],"labels":false,"gridColor":{"condition":{"test":"datum.value===2.222||datum.value===5||datum.value===7.778","value":"#ebebeb"},"value":"#f5f5f5"},"tickOpacity":{"condition":{"test":"datum.value===2.222||datum.value===5||datum.value===7.778","value":1},"value":0},"title":"***","titleFontWeight":"bold","titleFontSize":12,"titleColor":"#111111","titlePadding":2}}}},
{"data":{"name":"pts"},"transform":[{"filter":"datum.p==='T2'"}],"mark":{"type":"circle","color":"#5b5bd0","opacity":0.45,"size":5},"encoding":{"x":{"field":"j","type":"quantitative"},"y":{"field":"v","type":"quantitative"}}},
{"data":{"name":"box"},"transform":[{"filter":"datum.p==='T2'"}],"layer":[
{"mark":{"type":"rule","color":"#4e56a6","strokeWidth":0.9},"encoding":{"x":{"datum":5},"y":{"field":"lo","type":"quantitative"},"y2":{"field":"hi"}}},
{"mark":{"type":"rect","fill":"#c6e5f4","fillOpacity":0.7,"stroke":"#4e5aa8","strokeWidth":1},"encoding":{"x":{"datum":3.333},"x2":{"datum":6.667},"y":{"field":"q1","type":"quantitative"},"y2":{"field":"q3"}}},
{"mark":{"type":"rule","color":"#25257a","strokeWidth":2},"encoding":{"x":{"datum":3.333},"x2":{"datum":6.667},"y":{"field":"md","type":"quantitative"}}},
{"mark":{"type":"circle","color":"#a30f0f","size":30,"opacity":1},"encoding":{"x":{"datum":5},"y":{"field":"mn","type":"quantitative"}}},
{"mark":{"type":"rule","color":"#ff4545","strokeDash":[3,2],"strokeWidth":1},"encoding":{"y":{"datum":10}}}]}
]},
{"width":126,"height":130,"title":"Trail Making Test 3","layer":[
{"data":{"name":"vio"},"transform":[{"filter":"datum.p==='T3'"}],"mark":{"type":"area","orient":"horizontal","interpolate":"monotone","fill":"#e3f2fb","stroke":"#4e4f9f","strokeWidth":0.9},"encoding":{"y":{"field":"v","type":"quantitative","scale":{"domain":[7.45,19.55],"nice":false,"zero":false},"axis":{"values":[7.5,8.75,10,11.25,12.5,13.75,15,16.25,17.5,18.75],"labelOverlap":false,"labelExpr":"datum.value % 2.5 === 0 ? format(datum.value,'.1f') : ''","gridColor":{"condition":{"test":"datum.value % 2.5 === 0","value":"#ebebeb"},"value":"#f5f5f5"},"tickOpacity":{"condition":{"test":"datum.value % 2.5 === 0","value":1},"value":0},"title":null}},"x":{"field":"w","type":"quantitative","stack":"center","scale":{"domain":[-0.556,10.556],"nice":false,"zero":false},"axis":{"values":[0.833,2.222,3.611,5,6.389,7.778,9.167],"labels":false,"gridColor":{"condition":{"test":"datum.value===2.222||datum.value===5||datum.value===7.778","value":"#ebebeb"},"value":"#f5f5f5"},"tickOpacity":{"condition":{"test":"datum.value===2.222||datum.value===5||datum.value===7.778","value":1},"value":0},"title":"***","titleFontWeight":"bold","titleFontSize":12,"titleColor":"#111111","titlePadding":2}}}},
{"data":{"name":"pts"},"transform":[{"filter":"datum.p==='T3'"}],"mark":{"type":"circle","color":"#5b5bd0","opacity":0.45,"size":5},"encoding":{"x":{"field":"j","type":"quantitative"},"y":{"field":"v","type":"quantitative"}}},
{"data":{"name":"box"},"transform":[{"filter":"datum.p==='T3'"}],"layer":[
{"mark":{"type":"rule","color":"#4e56a6","strokeWidth":0.9},"encoding":{"x":{"datum":5},"y":{"field":"lo","type":"quantitative"},"y2":{"field":"hi"}}},
{"mark":{"type":"rect","fill":"#c6e5f4","fillOpacity":0.7,"stroke":"#4e5aa8","strokeWidth":1},"encoding":{"x":{"datum":3.333},"x2":{"datum":6.667},"y":{"field":"q1","type":"quantitative"},"y2":{"field":"q3"}}},
{"mark":{"type":"rule","color":"#25257a","strokeWidth":2},"encoding":{"x":{"datum":3.333},"x2":{"datum":6.667},"y":{"field":"md","type":"quantitative"}}},
{"mark":{"type":"circle","color":"#a30f0f","size":30,"opacity":1},"encoding":{"x":{"datum":5},"y":{"field":"mn","type":"quantitative"}}},
{"mark":{"type":"rule","color":"#ff4545","strokeDash":[3,2],"strokeWidth":1},"encoding":{"y":{"datum":10}}}]}
]},
{"width":126,"height":130,"title":"Trail Making Test 4","layer":[
{"data":{"name":"vio"},"transform":[{"filter":"datum.p==='T4'"}],"mark":{"type":"area","orient":"horizontal","interpolate":"monotone","fill":"#e3f2fb","stroke":"#4e4f9f","strokeWidth":0.9},"encoding":{"y":{"field":"v","type":"quantitative","scale":{"domain":[7.45,19.55],"nice":false,"zero":false},"axis":{"values":[7.5,8.75,10,11.25,12.5,13.75,15,16.25,17.5,18.75],"labelOverlap":false,"labelExpr":"datum.value % 2.5 === 0 ? format(datum.value,'.1f') : ''","gridColor":{"condition":{"test":"datum.value % 2.5 === 0","value":"#ebebeb"},"value":"#f5f5f5"},"tickOpacity":{"condition":{"test":"datum.value % 2.5 === 0","value":1},"value":0},"title":null}},"x":{"field":"w","type":"quantitative","stack":"center","scale":{"domain":[-0.556,10.556],"nice":false,"zero":false},"axis":{"values":[0.833,2.222,3.611,5,6.389,7.778,9.167],"labels":false,"gridColor":{"condition":{"test":"datum.value===2.222||datum.value===5||datum.value===7.778","value":"#ebebeb"},"value":"#f5f5f5"},"tickOpacity":{"condition":{"test":"datum.value===2.222||datum.value===5||datum.value===7.778","value":1},"value":0},"title":"***","titleFontWeight":"bold","titleFontSize":12,"titleColor":"#111111","titlePadding":2}}}},
{"data":{"name":"pts"},"transform":[{"filter":"datum.p==='T4'"}],"mark":{"type":"circle","color":"#5b5bd0","opacity":0.45,"size":5},"encoding":{"x":{"field":"j","type":"quantitative"},"y":{"field":"v","type":"quantitative"}}},
{"data":{"name":"box"},"transform":[{"filter":"datum.p==='T4'"}],"layer":[
{"mark":{"type":"rule","color":"#4e56a6","strokeWidth":0.9},"encoding":{"x":{"datum":5},"y":{"field":"lo","type":"quantitative"},"y2":{"field":"hi"}}},
{"mark":{"type":"rect","fill":"#c6e5f4","fillOpacity":0.7,"stroke":"#4e5aa8","strokeWidth":1},"encoding":{"x":{"datum":3.333},"x2":{"datum":6.667},"y":{"field":"q1","type":"quantitative"},"y2":{"field":"q3"}}},
{"mark":{"type":"rule","color":"#25257a","strokeWidth":2},"encoding":{"x":{"datum":3.333},"x2":{"datum":6.667},"y":{"field":"md","type":"quantitative"}}},
{"mark":{"type":"circle","color":"#a30f0f","size":30,"opacity":1},"encoding":{"x":{"datum":5},"y":{"field":"mn","type":"quantitative"}}},
{"mark":{"type":"rule","color":"#ff4545","strokeDash":[3,2],"strokeWidth":1},"encoding":{"y":{"datum":10}}}]}
]}
]},
{"spacing":33,"hconcat":[
{"width":121,"height":127,"title":{"text":"Design Fluency 1","offset":7},"layer":[
{"data":{"name":"vio"},"transform":[{"filter":"datum.p==='D1'"}],"mark":{"type":"area","orient":"horizontal","interpolate":"monotone","fill":"#e3f2fb","stroke":"#4e4f9f","strokeWidth":0.9},"encoding":{"y":{"field":"v","type":"quantitative","scale":{"domain":[-1.05,22.05],"nice":false,"zero":false},"axis":{"values":[0,2.5,5,7.5,10,12.5,15,17.5,20],"labelOverlap":false,"labelExpr":"datum.value % 5 === 0 ? datum.label : ''","gridColor":{"condition":{"test":"datum.value % 5 === 0","value":"#ebebeb"},"value":"#f5f5f5"},"tickOpacity":{"condition":{"test":"datum.value % 5 === 0","value":1},"value":0},"title":null}},"x":{"field":"w","type":"quantitative","stack":"center","scale":{"domain":[-0.556,10.556],"nice":false,"zero":false},"axis":{"values":[0.833,2.222,3.611,5,6.389,7.778,9.167],"labels":false,"gridColor":{"condition":{"test":"datum.value===2.222||datum.value===5||datum.value===7.778","value":"#ebebeb"},"value":"#f5f5f5"},"tickOpacity":{"condition":{"test":"datum.value===2.222||datum.value===5||datum.value===7.778","value":1},"value":0},"title":"***","titleFontWeight":"bold","titleFontSize":12,"titleColor":"#111111","titlePadding":2}}}},
{"data":{"name":"pts"},"transform":[{"filter":"datum.p==='D1'"}],"mark":{"type":"circle","color":"#5b5bd0","opacity":0.45,"size":5},"encoding":{"x":{"field":"j","type":"quantitative"},"y":{"field":"v","type":"quantitative"}}},
{"data":{"name":"box"},"transform":[{"filter":"datum.p==='D1'"}],"layer":[
{"mark":{"type":"rule","color":"#4e56a6","strokeWidth":0.9},"encoding":{"x":{"datum":5},"y":{"field":"lo","type":"quantitative"},"y2":{"field":"hi"}}},
{"mark":{"type":"rect","fill":"#c6e5f4","fillOpacity":0.7,"stroke":"#4e5aa8","strokeWidth":1},"encoding":{"x":{"datum":2.556},"x2":{"datum":7.444},"y":{"field":"q1","type":"quantitative"},"y2":{"field":"q3"}}},
{"mark":{"type":"rule","color":"#25257a","strokeWidth":2},"encoding":{"x":{"datum":2.556},"x2":{"datum":7.444},"y":{"field":"md","type":"quantitative"}}},
{"mark":{"type":"circle","color":"#a30f0f","size":30,"opacity":1},"encoding":{"x":{"datum":5},"y":{"field":"mn","type":"quantitative"}}},
{"mark":{"type":"rule","color":"#ff4545","strokeDash":[3,2],"strokeWidth":1},"encoding":{"y":{"datum":10}}}]}
]},
{"width":121,"height":127,"title":{"text":"Desing Fluency 2","offset":7},"layer":[
{"data":{"name":"vio"},"transform":[{"filter":"datum.p==='D2'"}],"mark":{"type":"area","orient":"horizontal","interpolate":"monotone","fill":"#e3f2fb","stroke":"#4e4f9f","strokeWidth":0.9},"encoding":{"y":{"field":"v","type":"quantitative","scale":{"domain":[-1.05,22.05],"nice":false,"zero":false},"axis":{"values":[0,2.5,5,7.5,10,12.5,15,17.5,20],"labelOverlap":false,"labelExpr":"datum.value % 5 === 0 ? datum.label : ''","gridColor":{"condition":{"test":"datum.value % 5 === 0","value":"#ebebeb"},"value":"#f5f5f5"},"tickOpacity":{"condition":{"test":"datum.value % 5 === 0","value":1},"value":0},"title":null}},"x":{"field":"w","type":"quantitative","stack":"center","scale":{"domain":[-0.556,10.556],"nice":false,"zero":false},"axis":{"values":[0.833,2.222,3.611,5,6.389,7.778,9.167],"labels":false,"gridColor":{"condition":{"test":"datum.value===2.222||datum.value===5||datum.value===7.778","value":"#ebebeb"},"value":"#f5f5f5"},"tickOpacity":{"condition":{"test":"datum.value===2.222||datum.value===5||datum.value===7.778","value":1},"value":0},"title":"***","titleFontWeight":"bold","titleFontSize":12,"titleColor":"#111111","titlePadding":2}}}},
{"data":{"name":"pts"},"transform":[{"filter":"datum.p==='D2'"}],"mark":{"type":"circle","color":"#5b5bd0","opacity":0.45,"size":5},"encoding":{"x":{"field":"j","type":"quantitative"},"y":{"field":"v","type":"quantitative"}}},
{"data":{"name":"box"},"transform":[{"filter":"datum.p==='D2'"}],"layer":[
{"mark":{"type":"rule","color":"#4e56a6","strokeWidth":0.9},"encoding":{"x":{"datum":5},"y":{"field":"lo","type":"quantitative"},"y2":{"field":"hi"}}},
{"mark":{"type":"rect","fill":"#c6e5f4","fillOpacity":0.7,"stroke":"#4e5aa8","strokeWidth":1},"encoding":{"x":{"datum":3.333},"x2":{"datum":6.667},"y":{"field":"q1","type":"quantitative"},"y2":{"field":"q3"}}},
{"mark":{"type":"rule","color":"#25257a","strokeWidth":2},"encoding":{"x":{"datum":3.333},"x2":{"datum":6.667},"y":{"field":"md","type":"quantitative"}}},
{"mark":{"type":"circle","color":"#a30f0f","size":30,"opacity":1},"encoding":{"x":{"datum":5},"y":{"field":"mn","type":"quantitative"}}},
{"mark":{"type":"rule","color":"#ff4545","strokeDash":[3,2],"strokeWidth":1},"encoding":{"y":{"datum":10}}}]}
]},
{"width":121,"height":127,"title":{"text":"Design Fluency 3","offset":7},"layer":[
{"data":{"name":"vio"},"transform":[{"filter":"datum.p==='D3'"}],"mark":{"type":"area","orient":"horizontal","interpolate":"monotone","fill":"#e3f2fb","stroke":"#4e4f9f","strokeWidth":0.9},"encoding":{"y":{"field":"v","type":"quantitative","scale":{"domain":[-1.05,22.05],"nice":false,"zero":false},"axis":{"values":[0,2.5,5,7.5,10,12.5,15,17.5,20],"labelOverlap":false,"labelExpr":"datum.value % 5 === 0 ? datum.label : ''","gridColor":{"condition":{"test":"datum.value % 5 === 0","value":"#ebebeb"},"value":"#f5f5f5"},"tickOpacity":{"condition":{"test":"datum.value % 5 === 0","value":1},"value":0},"title":null}},"x":{"field":"w","type":"quantitative","stack":"center","scale":{"domain":[-0.556,10.556],"nice":false,"zero":false},"axis":{"values":[0.833,2.222,3.611,5,6.389,7.778,9.167],"labels":false,"gridColor":{"condition":{"test":"datum.value===2.222||datum.value===5||datum.value===7.778","value":"#ebebeb"},"value":"#f5f5f5"},"tickOpacity":{"condition":{"test":"datum.value===2.222||datum.value===5||datum.value===7.778","value":1},"value":0},"title":"***","titleFontWeight":"bold","titleFontSize":12,"titleColor":"#111111","titlePadding":2}}}},
{"data":{"name":"pts"},"transform":[{"filter":"datum.p==='D3'"}],"mark":{"type":"circle","color":"#5b5bd0","opacity":0.45,"size":5},"encoding":{"x":{"field":"j","type":"quantitative"},"y":{"field":"v","type":"quantitative"}}},
{"data":{"name":"box"},"transform":[{"filter":"datum.p==='D3'"}],"layer":[
{"mark":{"type":"rule","color":"#4e56a6","strokeWidth":0.9},"encoding":{"x":{"datum":5},"y":{"field":"lo","type":"quantitative"},"y2":{"field":"hi"}}},
{"mark":{"type":"rect","fill":"#c6e5f4","fillOpacity":0.7,"stroke":"#4e5aa8","strokeWidth":1},"encoding":{"x":{"datum":3.333},"x2":{"datum":6.667},"y":{"field":"q1","type":"quantitative"},"y2":{"field":"q3"}}},
{"mark":{"type":"rule","color":"#25257a","strokeWidth":2},"encoding":{"x":{"datum":3.333},"x2":{"datum":6.667},"y":{"field":"md","type":"quantitative"}}},
{"mark":{"type":"circle","color":"#a30f0f","size":30,"opacity":1},"encoding":{"x":{"datum":5},"y":{"field":"mn","type":"quantitative"}}},
{"mark":{"type":"rule","color":"#ff4545","strokeDash":[3,2],"strokeWidth":1},"encoding":{"y":{"datum":10}}}]}
]}
]}
]}
]},
{"spacing":23,"vconcat":[
{"spacing":55,"hconcat":[
{"width":126,"height":1,"data":{"values":[]},"mark":"point","view":{"stroke":null}},
{"width":108,"height":155,"title":{"text":["Color Word","Interference 1"],"fontSize":11.5,"lineHeight":16,"offset":13},"layer":[
{"data":{"name":"vio"},"transform":[{"filter":"datum.p==='C1'"}],"mark":{"type":"area","orient":"horizontal","interpolate":"monotone","fill":"#e3f2fb","stroke":"#4e4f9f","strokeWidth":0.9},"encoding":{"y":{"field":"v","type":"quantitative","scale":{"domain":[-1.05,22.05],"nice":false,"zero":false},"axis":{"values":[0,2.5,5,7.5,10,12.5,15,17.5,20],"labelOverlap":false,"labelExpr":"datum.value % 5 === 0 ? datum.label : ''","gridColor":{"condition":{"test":"datum.value % 5 === 0","value":"#ebebeb"},"value":"#f5f5f5"},"tickOpacity":{"condition":{"test":"datum.value % 5 === 0","value":1},"value":0},"labelFontSize":9,"title":"Players´ Performance","titleFontSize":11,"titlePadding":6}},"x":{"field":"w","type":"quantitative","stack":"center","scale":{"domain":[-0.333,10.333],"nice":false,"zero":false},"axis":{"values":[1,2.333,3.667,5,6.333,7.667,9],"labels":false,"gridColor":{"condition":{"test":"datum.value===2.333||datum.value===5||datum.value===7.667","value":"#ebebeb"},"value":"#f5f5f5"},"tickOpacity":{"condition":{"test":"datum.value===2.333||datum.value===5||datum.value===7.667","value":1},"value":0},"title":"***","titleFontWeight":"bold","titleFontSize":12,"titleColor":"#111111","titlePadding":9}}}},
{"data":{"name":"pts"},"transform":[{"filter":"datum.p==='C1'"}],"mark":{"type":"circle","color":"#5b5bd0","opacity":0.45,"size":5},"encoding":{"x":{"field":"j","type":"quantitative"},"y":{"field":"v","type":"quantitative"}}},
{"data":{"name":"out"},"transform":[{"filter":"datum.p==='C1'"}],"mark":{"type":"circle","color":"#2a2a9a","size":12,"opacity":1},"encoding":{"x":{"datum":5},"y":{"field":"v","type":"quantitative"}}},
{"data":{"name":"box"},"transform":[{"filter":"datum.p==='C1'"}],"layer":[
{"mark":{"type":"rule","color":"#4e56a6","strokeWidth":0.9},"encoding":{"x":{"datum":5},"y":{"field":"lo","type":"quantitative"},"y2":{"field":"hi"}}},
{"mark":{"type":"rect","fill":"#c6e5f4","fillOpacity":0.7,"stroke":"#4e5aa8","strokeWidth":1},"encoding":{"x":{"datum":3.333},"x2":{"datum":6.667},"y":{"field":"q1","type":"quantitative"},"y2":{"field":"q3"}}},
{"mark":{"type":"rule","color":"#25257a","strokeWidth":2},"encoding":{"x":{"datum":3.333},"x2":{"datum":6.667},"y":{"field":"md","type":"quantitative"}}},
{"mark":{"type":"circle","color":"#a30f0f","size":30,"opacity":1},"encoding":{"x":{"datum":5},"y":{"field":"mn","type":"quantitative"}}},
{"mark":{"type":"rule","color":"#ff4545","strokeDash":[3,2],"strokeWidth":1},"encoding":{"y":{"datum":10}}}]}
]},
{"width":108,"height":155,"title":{"text":["Color Word","Interference 2"],"fontSize":11.5,"lineHeight":16,"offset":13},"layer":[
{"data":{"name":"vio"},"transform":[{"filter":"datum.p==='C2'"}],"mark":{"type":"area","orient":"horizontal","interpolate":"monotone","fill":"#e3f2fb","stroke":"#4e4f9f","strokeWidth":0.9},"encoding":{"y":{"field":"v","type":"quantitative","scale":{"domain":[-1.05,22.05],"nice":false,"zero":false},"axis":{"values":[0,2.5,5,7.5,10,12.5,15,17.5,20],"labelOverlap":false,"labelExpr":"datum.value % 5 === 0 ? datum.label : ''","gridColor":{"condition":{"test":"datum.value % 5 === 0","value":"#ebebeb"},"value":"#f5f5f5"},"tickOpacity":{"condition":{"test":"datum.value % 5 === 0","value":1},"value":0},"labelFontSize":9,"title":null}},"x":{"field":"w","type":"quantitative","stack":"center","scale":{"domain":[-0.333,10.333],"nice":false,"zero":false},"axis":{"values":[1,2.333,3.667,5,6.333,7.667,9],"labels":false,"gridColor":{"condition":{"test":"datum.value===2.333||datum.value===5||datum.value===7.667","value":"#ebebeb"},"value":"#f5f5f5"},"tickOpacity":{"condition":{"test":"datum.value===2.333||datum.value===5||datum.value===7.667","value":1},"value":0},"title":"***","titleFontWeight":"bold","titleFontSize":12,"titleColor":"#111111","titlePadding":9}}}},
{"data":{"name":"pts"},"transform":[{"filter":"datum.p==='C2'"}],"mark":{"type":"circle","color":"#5b5bd0","opacity":0.45,"size":5},"encoding":{"x":{"field":"j","type":"quantitative"},"y":{"field":"v","type":"quantitative"}}},
{"data":{"name":"box"},"transform":[{"filter":"datum.p==='C2'"}],"layer":[
{"mark":{"type":"rule","color":"#4e56a6","strokeWidth":0.9},"encoding":{"x":{"datum":5},"y":{"field":"lo","type":"quantitative"},"y2":{"field":"hi"}}},
{"mark":{"type":"rect","fill":"#c6e5f4","fillOpacity":0.7,"stroke":"#4e5aa8","strokeWidth":1},"encoding":{"x":{"datum":3.333},"x2":{"datum":6.667},"y":{"field":"q1","type":"quantitative"},"y2":{"field":"q3"}}},
{"mark":{"type":"rule","color":"#25257a","strokeWidth":2},"encoding":{"x":{"datum":3.333},"x2":{"datum":6.667},"y":{"field":"md","type":"quantitative"}}},
{"mark":{"type":"circle","color":"#a30f0f","size":30,"opacity":1},"encoding":{"x":{"datum":5},"y":{"field":"mn","type":"quantitative"}}},
{"mark":{"type":"rule","color":"#ff4545","strokeDash":[3,2],"strokeWidth":1},"encoding":{"y":{"datum":10}}}]}
]},
{"width":108,"height":155,"title":{"text":["Color Word","Interference 3"],"fontSize":11.5,"lineHeight":16,"offset":13},"layer":[
{"data":{"name":"vio"},"transform":[{"filter":"datum.p==='C3'"}],"mark":{"type":"area","orient":"horizontal","interpolate":"monotone","fill":"#e3f2fb","stroke":"#4e4f9f","strokeWidth":0.9},"encoding":{"y":{"field":"v","type":"quantitative","scale":{"domain":[-1.05,22.05],"nice":false,"zero":false},"axis":{"values":[0,2.5,5,7.5,10,12.5,15,17.5,20],"labelOverlap":false,"labelExpr":"datum.value % 5 === 0 ? datum.label : ''","gridColor":{"condition":{"test":"datum.value % 5 === 0","value":"#ebebeb"},"value":"#f5f5f5"},"tickOpacity":{"condition":{"test":"datum.value % 5 === 0","value":1},"value":0},"labelFontSize":9,"title":null}},"x":{"field":"w","type":"quantitative","stack":"center","scale":{"domain":[-0.333,10.333],"nice":false,"zero":false},"axis":{"values":[1,2.333,3.667,5,6.333,7.667,9],"labels":false,"gridColor":{"condition":{"test":"datum.value===2.333||datum.value===5||datum.value===7.667","value":"#ebebeb"},"value":"#f5f5f5"},"tickOpacity":{"condition":{"test":"datum.value===2.333||datum.value===5||datum.value===7.667","value":1},"value":0},"title":"***","titleFontWeight":"bold","titleFontSize":12,"titleColor":"#111111","titlePadding":9}}}},
{"data":{"name":"pts"},"transform":[{"filter":"datum.p==='C3'"}],"mark":{"type":"circle","color":"#5b5bd0","opacity":0.45,"size":5},"encoding":{"x":{"field":"j","type":"quantitative"},"y":{"field":"v","type":"quantitative"}}},
{"data":{"name":"out"},"transform":[{"filter":"datum.p==='C3'"}],"mark":{"type":"circle","color":"#2a2a9a","size":12,"opacity":1},"encoding":{"x":{"datum":5},"y":{"field":"v","type":"quantitative"}}},
{"data":{"name":"box"},"transform":[{"filter":"datum.p==='C3'"}],"layer":[
{"mark":{"type":"rule","color":"#4e56a6","strokeWidth":0.9},"encoding":{"x":{"datum":5},"y":{"field":"lo","type":"quantitative"},"y2":{"field":"hi"}}},
{"mark":{"type":"rect","fill":"#c6e5f4","fillOpacity":0.7,"stroke":"#4e5aa8","strokeWidth":1},"encoding":{"x":{"datum":3.333},"x2":{"datum":6.667},"y":{"field":"q1","type":"quantitative"},"y2":{"field":"q3"}}},
{"mark":{"type":"rule","color":"#25257a","strokeWidth":2},"encoding":{"x":{"datum":3.333},"x2":{"datum":6.667},"y":{"field":"md","type":"quantitative"}}},
{"mark":{"type":"circle","color":"#a30f0f","size":30,"opacity":1},"encoding":{"x":{"datum":5},"y":{"field":"mn","type":"quantitative"}}},
{"mark":{"type":"rule","color":"#ff4545","strokeDash":[3,2],"strokeWidth":1},"encoding":{"y":{"datum":10}}}]}
]},
{"width":108,"height":155,"title":{"text":["Color Word","Interference 4"],"fontSize":11.5,"lineHeight":16,"offset":13},"layer":[
{"data":{"name":"vio"},"transform":[{"filter":"datum.p==='C4'"}],"mark":{"type":"area","orient":"horizontal","interpolate":"monotone","fill":"#e3f2fb","stroke":"#4e4f9f","strokeWidth":0.9},"encoding":{"y":{"field":"v","type":"quantitative","scale":{"domain":[-1.05,22.05],"nice":false,"zero":false},"axis":{"values":[0,2.5,5,7.5,10,12.5,15,17.5,20],"labelOverlap":false,"labelExpr":"datum.value % 5 === 0 ? datum.label : ''","gridColor":{"condition":{"test":"datum.value % 5 === 0","value":"#ebebeb"},"value":"#f5f5f5"},"tickOpacity":{"condition":{"test":"datum.value % 5 === 0","value":1},"value":0},"labelFontSize":9,"title":null}},"x":{"field":"w","type":"quantitative","stack":"center","scale":{"domain":[-0.333,10.333],"nice":false,"zero":false},"axis":{"values":[1,2.333,3.667,5,6.333,7.667,9],"labels":false,"gridColor":{"condition":{"test":"datum.value===2.333||datum.value===5||datum.value===7.667","value":"#ebebeb"},"value":"#f5f5f5"},"tickOpacity":{"condition":{"test":"datum.value===2.333||datum.value===5||datum.value===7.667","value":1},"value":0},"title":"***","titleFontWeight":"bold","titleFontSize":12,"titleColor":"#111111","titlePadding":9}}}},
{"data":{"name":"pts"},"transform":[{"filter":"datum.p==='C4'"}],"mark":{"type":"circle","color":"#5b5bd0","opacity":0.45,"size":5},"encoding":{"x":{"field":"j","type":"quantitative"},"y":{"field":"v","type":"quantitative"}}},
{"data":{"name":"box"},"transform":[{"filter":"datum.p==='C4'"}],"layer":[
{"mark":{"type":"rule","color":"#4e56a6","strokeWidth":0.9},"encoding":{"x":{"datum":5},"y":{"field":"lo","type":"quantitative"},"y2":{"field":"hi"}}},
{"mark":{"type":"rect","fill":"#c6e5f4","fillOpacity":0.7,"stroke":"#4e5aa8","strokeWidth":1},"encoding":{"x":{"datum":3.333},"x2":{"datum":6.667},"y":{"field":"q1","type":"quantitative"},"y2":{"field":"q3"}}},
{"mark":{"type":"rule","color":"#25257a","strokeWidth":2},"encoding":{"x":{"datum":3.333},"x2":{"datum":6.667},"y":{"field":"md","type":"quantitative"}}},
{"mark":{"type":"circle","color":"#a30f0f","size":30,"opacity":1},"encoding":{"x":{"datum":5},"y":{"field":"mn","type":"quantitative"}}},
{"mark":{"type":"rule","strokeDash":[3,2],"strokeWidth":1},"encoding":{"y":{"datum":10},"color":{"datum":": Normative Values","type":"nominal","scale":{"range":["#ff4545"]},"legend":{"title":null,"orient":"none","legendX":888,"legendY":255,"symbolType":"stroke","symbolDash":[3,2],"symbolStrokeWidth":1,"symbolSize":700,"symbolStrokeColor":"#ff4545","labelOffset":3,"labelFontSize":11.5,"labelColor":"#333333","labelFont":"Liberation Sans"}}}}]}
]}
]},
{"spacing":0,"hconcat":[
{"width":16,"height":1,"data":{"values":[]},"mark":"point","view":{"stroke":null}},
{"title":{"text":"5-Point Test","anchor":"middle","fontSize":23,"color":"#333333","offset":12,"dx":-15},"spacing":35,"hconcat":[
{"title":{"text":"5-Point New","anchor":"middle","fontSize":12,"offset":0,"dx":6},"vconcat":[{"title":{"text":"***","orient":"bottom","anchor":"middle","fontSize":12,"fontWeight":"bold","color":"#111111","offset":-3.5,"dx":9.5},"spacing":5,"resolve":{"scale":{"y":"independent"},"axis":{"y":"independent"}},"hconcat":[
{"width":141,"height":136,"layer":[
{"data":{"name":"vio"},"transform":[{"filter":"datum.p==='NS'"}],"mark":{"type":"area","orient":"horizontal","interpolate":"monotone","fill":"#c9534f","stroke":"#5153a6","strokeWidth":0.8},"encoding":{"y":{"field":"v","type":"quantitative","scale":{"domain":[1.45,35.55],"nice":false,"zero":false},"axis":{"values":[10,20,30],"orient":"left","labelOverlap":false,"labelFontSize":9,"labelColor":"#4d4d4d","gridColor":"#ebebeb","title":null}},"x":{"field":"w","type":"quantitative","stack":"center","scale":{"domain":[-1.667,11.667],"nice":false,"zero":false},"axis":{"values":[5],"labelExpr":"'Soccer Players'","labelFontSize":10.5,"labelColor":"#333333","labelPadding":2,"title":null}}}},
{"data":{"name":"box"},"transform":[{"filter":"datum.p==='NS'"}],"layer":[
{"mark":{"type":"rule","color":"#6b4c9c","strokeWidth":0.9},"encoding":{"x":{"datum":5},"y":{"field":"lo","type":"quantitative"},"y2":{"field":"hi"}}},
{"mark":{"type":"rect","fill":"#b3262c","stroke":"#4b4b9f","strokeWidth":0.9},"encoding":{"x":{"datum":3.333},"x2":{"datum":6.667},"y":{"field":"q1","type":"quantitative"},"y2":{"field":"q3"}}},
{"mark":{"type":"rule","color":"#2b2b88","strokeWidth":1.5},"encoding":{"x":{"datum":3.333},"x2":{"datum":6.667},"y":{"field":"md","type":"quantitative"}}}]},
{"data":{"name":"pts"},"transform":[{"filter":"datum.p==='NS'"}],"mark":{"type":"circle","color":"#1f1f8f","opacity":0.75,"size":4},"encoding":{"x":{"field":"j","type":"quantitative"},"y":{"field":"v","type":"quantitative"}}},
{"data":{"name":"box"},"transform":[{"filter":"datum.p==='NS'"}],"mark":{"type":"circle","color":"#86def2","size":10,"opacity":1},"encoding":{"x":{"datum":5},"y":{"field":"mn","type":"quantitative"}}}
]},
{"width":139,"height":136,"layer":[
{"data":{"name":"vio"},"transform":[{"filter":"datum.p==='NC'"}],"mark":{"type":"area","orient":"horizontal","interpolate":"monotone","fill":"#a8dcf2","stroke":"#4d63b0","strokeWidth":0.8},"encoding":{"y":{"field":"v","type":"quantitative","scale":{"domain":[1.45,35.55],"nice":false,"zero":false},"axis":{"values":[5,10,15,20,25,30,35],"labels":false,"gridColor":{"condition":{"test":"datum.value % 10 === 0","value":"#ebebeb"},"value":"#f5f5f5"},"tickOpacity":{"condition":{"test":"datum.value % 10 === 0","value":1},"value":0},"title":null}},"x":{"field":"w","type":"quantitative","stack":"center","scale":{"domain":[-1.667,11.667],"nice":false,"zero":false},"axis":{"values":[5],"labelExpr":"'Controls'","labelFontSize":10.5,"labelColor":"#333333","labelPadding":2,"title":null}}}},
{"data":{"name":"box"},"transform":[{"filter":"datum.p==='NC'"}],"layer":[
{"mark":{"type":"rule","color":"#4d63b0","strokeWidth":0.9},"encoding":{"x":{"datum":5},"y":{"field":"lo","type":"quantitative"},"y2":{"field":"hi"}}},
{"mark":{"type":"rect","fill":"#8cd2ee","stroke":"#4d63b0","strokeWidth":0.9},"encoding":{"x":{"datum":3.333},"x2":{"datum":6.667},"y":{"field":"q1","type":"quantitative"},"y2":{"field":"q3"}}},
{"mark":{"type":"rule","color":"#2b2b88","strokeWidth":1.5},"encoding":{"x":{"datum":3.333},"x2":{"datum":6.667},"y":{"field":"md","type":"quantitative"}}}]},
{"data":{"name":"pts"},"transform":[{"filter":"datum.p==='NC'"}],"mark":{"type":"circle","color":"#1f1f8f","opacity":0.75,"size":4},"encoding":{"x":{"field":"j","type":"quantitative"},"y":{"field":"v","type":"quantitative"}}},
{"data":{"name":"box"},"transform":[{"filter":"datum.p==='NC'"}],"mark":{"type":"circle","color":"#e23a3a","size":10,"opacity":1},"encoding":{"x":{"datum":5},"y":{"field":"mn","type":"quantitative"}}}
]}
]}]},
{"title":{"text":"5-Point Repetition","anchor":"middle","fontSize":12,"offset":0,"dx":8},"vconcat":[{"title":{"text":"n.s.","orient":"bottom","anchor":"middle","fontSize":13,"fontWeight":"bold","color":"#111111","offset":-6.5,"dx":9.7},"spacing":5,"resolve":{"scale":{"y":"independent"},"axis":{"y":"independent"}},"hconcat":[
{"width":139,"height":136,"layer":[
{"data":{"name":"vio"},"transform":[{"filter":"datum.p==='RS'"}],"mark":{"type":"area","orient":"horizontal","interpolate":"monotone","fill":"#c9534f","stroke":"#5153a6","strokeWidth":0.8},"encoding":{"y":{"field":"v","type":"quantitative","scale":{"domain":[-3,62.5],"nice":false,"zero":false},"axis":{"values":[0,10,20,30,40,50,60],"labelOverlap":false,"labelExpr":"datum.value % 20 === 0 ? datum.label : ''","gridColor":{"condition":{"test":"datum.value % 20 === 0","value":"#ebebeb"},"value":"#f5f5f5"},"tickOpacity":{"condition":{"test":"datum.value % 20 === 0","value":1},"value":0},"labelFontSize":9,"title":null}},"x":{"field":"w","type":"quantitative","stack":"center","scale":{"domain":[-1.667,11.667],"nice":false,"zero":false},"axis":{"values":[5],"labelExpr":"'Soccer Players'","labelFontSize":10.5,"labelColor":"#333333","labelPadding":2,"title":null}}}},
{"data":{"name":"box"},"transform":[{"filter":"datum.p==='RS'"}],"layer":[
{"mark":{"type":"rule","color":"#6b4c9c","strokeWidth":0.9},"encoding":{"x":{"datum":5},"y":{"field":"lo","type":"quantitative"},"y2":{"field":"hi"}}},
{"mark":{"type":"rect","fill":"#b3262c","stroke":"#4b4b9f","strokeWidth":0.9},"encoding":{"x":{"datum":3.333},"x2":{"datum":6.667},"y":{"field":"q1","type":"quantitative"},"y2":{"field":"q3"}}},
{"mark":{"type":"rule","color":"#2b2b88","strokeWidth":1.5},"encoding":{"x":{"datum":3.333},"x2":{"datum":6.667},"y":{"field":"md","type":"quantitative"}}}]},
{"data":{"name":"pts"},"transform":[{"filter":"datum.p==='RS'"}],"mark":{"type":"circle","color":"#1f1f8f","opacity":0.75,"size":4},"encoding":{"x":{"field":"j","type":"quantitative"},"y":{"field":"v","type":"quantitative"}}},
{"data":{"name":"out"},"transform":[{"filter":"datum.p==='RS'"}],"mark":{"type":"circle","color":"#2a2a9a","size":12,"opacity":1},"encoding":{"x":{"datum":5},"y":{"field":"v","type":"quantitative"}}},
{"data":{"name":"box"},"transform":[{"filter":"datum.p==='RS'"}],"mark":{"type":"circle","color":"#86def2","size":10,"opacity":1},"encoding":{"x":{"datum":5},"y":{"field":"mn","type":"quantitative"}}}
]},
{"width":144,"height":136,"layer":[
{"data":{"name":"vio"},"transform":[{"filter":"datum.p==='RC'"}],"mark":{"type":"area","orient":"horizontal","interpolate":"monotone","fill":"#a8dcf2","stroke":"#4d63b0","strokeWidth":0.8},"encoding":{"y":{"field":"v","type":"quantitative","scale":{"domain":[-3,62.5],"nice":false,"zero":false},"axis":{"values":[0,10,20,30,40,50,60],"labels":false,"gridColor":{"condition":{"test":"datum.value % 20 === 0","value":"#ebebeb"},"value":"#f5f5f5"},"tickOpacity":{"condition":{"test":"datum.value % 20 === 0","value":1},"value":0},"title":null}},"x":{"field":"w","type":"quantitative","stack":"center","scale":{"domain":[-1.667,11.667],"nice":false,"zero":false},"axis":{"values":[5],"labelExpr":"'Controls'","labelFontSize":10.5,"labelColor":"#333333","labelPadding":2,"title":null}}}},
{"data":{"name":"box"},"transform":[{"filter":"datum.p==='RC'"}],"layer":[
{"mark":{"type":"rule","color":"#4d63b0","strokeWidth":0.9},"encoding":{"x":{"datum":5},"y":{"field":"lo","type":"quantitative"},"y2":{"field":"hi"}}},
{"mark":{"type":"rect","fill":"#8cd2ee","stroke":"#4d63b0","strokeWidth":0.9},"encoding":{"x":{"datum":3.333},"x2":{"datum":6.667},"y":{"field":"q1","type":"quantitative"},"y2":{"field":"q3"}}},
{"mark":{"type":"rule","color":"#2b2b88","strokeWidth":1.5},"encoding":{"x":{"datum":3.333},"x2":{"datum":6.667},"y":{"field":"md","type":"quantitative"}}}]},
{"data":{"name":"pts"},"transform":[{"filter":"datum.p==='RC'"}],"mark":{"type":"circle","color":"#1f1f8f","opacity":0.75,"size":4},"encoding":{"x":{"field":"j","type":"quantitative"},"y":{"field":"v","type":"quantitative"}}},
{"data":{"name":"box"},"transform":[{"filter":"datum.p==='RC'"}],"mark":{"type":"circle","color":"#e23a3a","size":10,"opacity":1},"encoding":{"x":{"datum":5},"y":{"field":"mn","type":"quantitative"}}}
]}
]}]},
{"title":{"text":"Simple Manual Reaction Time","anchor":"middle","fontSize":12,"offset":0,"dx":7},"vconcat":[{"title":{"text":"***","orient":"bottom","anchor":"middle","fontSize":12,"fontWeight":"bold","color":"#111111","offset":-3.5,"dx":11.5},"spacing":5,"resolve":{"scale":{"y":"independent"},"axis":{"y":"independent"}},"hconcat":[
{"width":141,"height":136,"layer":[
{"data":{"name":"vio"},"transform":[{"filter":"datum.p==='MS'"}],"mark":{"type":"area","orient":"horizontal","interpolate":"monotone","fill":"#c9534f","stroke":"#5153a6","strokeWidth":0.8},"encoding":{"y":{"field":"v","type":"quantitative","scale":{"domain":[228.6,412.4],"nice":false,"zero":false},"axis":{"values":[250,275,300,325,350,375,400],"labelOverlap":false,"labelExpr":"datum.value % 50 === 0 ? datum.label : ''","gridColor":{"condition":{"test":"datum.value % 50 === 0","value":"#ebebeb"},"value":"#f5f5f5"},"tickOpacity":{"condition":{"test":"datum.value % 50 === 0","value":1},"value":0},"labelFontSize":9,"title":null}},"x":{"field":"w","type":"quantitative","stack":"center","scale":{"domain":[-1.667,11.667],"nice":false,"zero":false},"axis":{"values":[5],"labelExpr":"'Soccer Players'","labelFontSize":10.5,"labelColor":"#333333","labelPadding":2,"title":null}}}},
{"data":{"name":"box"},"transform":[{"filter":"datum.p==='MS'"}],"layer":[
{"mark":{"type":"rule","color":"#6b4c9c","strokeWidth":0.9},"encoding":{"x":{"datum":5},"y":{"field":"lo","type":"quantitative"},"y2":{"field":"hi"}}},
{"mark":{"type":"rect","fill":"#b3262c","stroke":"#4b4b9f","strokeWidth":0.9},"encoding":{"x":{"datum":3.333},"x2":{"datum":6.667},"y":{"field":"q1","type":"quantitative"},"y2":{"field":"q3"}}},
{"mark":{"type":"rule","color":"#2b2b88","strokeWidth":1.5},"encoding":{"x":{"datum":3.333},"x2":{"datum":6.667},"y":{"field":"md","type":"quantitative"}}}]},
{"data":{"name":"pts"},"transform":[{"filter":"datum.p==='MS'"}],"mark":{"type":"circle","color":"#1f1f8f","opacity":0.75,"size":4},"encoding":{"x":{"field":"j","type":"quantitative"},"y":{"field":"v","type":"quantitative"}}},
{"data":{"name":"box"},"transform":[{"filter":"datum.p==='MS'"}],"mark":{"type":"circle","color":"#86def2","size":10,"opacity":1},"encoding":{"x":{"datum":5},"y":{"field":"mn","type":"quantitative"}}}
]},
{"width":140,"height":136,"layer":[
{"data":{"name":"vio"},"transform":[{"filter":"datum.p==='MC'"}],"mark":{"type":"area","orient":"horizontal","interpolate":"monotone","fill":"#a8dcf2","stroke":"#4d63b0","strokeWidth":0.8},"encoding":{"y":{"field":"v","type":"quantitative","scale":{"domain":[228.6,412.4],"nice":false,"zero":false},"axis":{"values":[250,275,300,325,350,375,400],"labels":false,"gridColor":{"condition":{"test":"datum.value % 50 === 0","value":"#ebebeb"},"value":"#f5f5f5"},"tickOpacity":{"condition":{"test":"datum.value % 50 === 0","value":1},"value":0},"title":null}},"x":{"field":"w","type":"quantitative","stack":"center","scale":{"domain":[-1.667,11.667],"nice":false,"zero":false},"axis":{"values":[5],"labelExpr":"'Controls'","labelFontSize":10.5,"labelColor":"#333333","labelPadding":2,"title":null}}}},
{"data":{"name":"box"},"transform":[{"filter":"datum.p==='MC'"}],"layer":[
{"mark":{"type":"rule","color":"#4d63b0","strokeWidth":0.9},"encoding":{"x":{"datum":5},"y":{"field":"lo","type":"quantitative"},"y2":{"field":"hi"}}},
{"mark":{"type":"rect","fill":"#8cd2ee","stroke":"#4d63b0","strokeWidth":0.9},"encoding":{"x":{"datum":3.333},"x2":{"datum":6.667},"y":{"field":"q1","type":"quantitative"},"y2":{"field":"q3"}}},
{"mark":{"type":"rule","color":"#2b2b88","strokeWidth":1.5},"encoding":{"x":{"datum":3.333},"x2":{"datum":6.667},"y":{"field":"md","type":"quantitative"}}}]},
{"data":{"name":"pts"},"transform":[{"filter":"datum.p==='MC'"}],"mark":{"type":"circle","color":"#1f1f8f","opacity":0.75,"size":4},"encoding":{"x":{"field":"j","type":"quantitative"},"y":{"field":"v","type":"quantitative"}}},
{"data":{"name":"box"},"transform":[{"filter":"datum.p==='MC'"}],"mark":{"type":"circle","color":"#e23a3a","size":10,"opacity":1},"encoding":{"x":{"datum":5},"y":{"field":"mn","type":"quantitative"}}}
]}
]}]}
]}
]}
]}
]
}
